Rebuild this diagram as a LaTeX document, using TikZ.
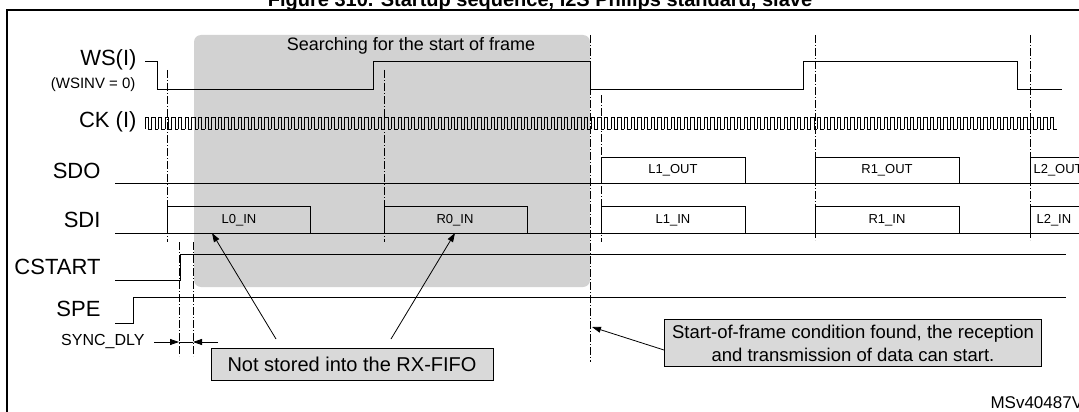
\documentclass[tikz,border=0pt]{standalone}
\usepackage{fontspec}
\setmainfont{Liberation Sans}
\usetikzlibrary{arrows.meta}
\begin{document}
\begin{tikzpicture}[x=1pt,y=-1pt,
  sig/.style={line width=1pt},
  dd/.style={line width=0.8pt,dash pattern=on 8pt off 2pt on 1pt off 2pt},
  lbl/.style={anchor=east,font=\fontsize{22}{22}\selectfont},
  box/.style={font=\fontsize{13}{13}\selectfont},
  note/.style={draw,fill=gray!30,line width=1pt,align=center,inner sep=2pt},
  arr/.style={-{Triangle[length=9pt,width=6pt]},line width=0.8pt}]
\useasboundingbox (0,0) rectangle (1079,412);
\node[font=\bfseries\fontsize{20}{20}\selectfont] (title) at (540,1) {Figure 310. Startup sequence, I2S Philips standard, slave};
\draw[line width=1.5pt] (7,430) -- (7,10) -- (1100,10);
% gray area
\fill[gray!35,rounded corners=7pt] (194,35) rectangle (590,287);
\node[font=\fontsize{18}{18}\selectfont] (search) at (411,46) {Searching for the start of frame};
% vertical dash-dot lines
\draw[dd] (167,70) -- (167,242);
\draw[dd] (384,70) -- (384,242);
\draw[dd] (590,35) -- (590,362);
\draw[dd] (601,95) -- (601,242);
\draw[dd] (815,35) -- (815,240);
\draw[dd] (1030,35) -- (1030,240);
\draw[dd] (179,242) -- (179,356);
\draw[dd] (193,242) -- (193,356);
% labels
\node[lbl] (ws) at (140,60) {WS(I)};
\node[anchor=east,font=\fontsize{15}{15}\selectfont] (wsinv) at (139,85) {(WSINV = 0)};
\node[lbl] (ck) at (140,122) {CK (I)};
\node[lbl] (sdo) at (104,171) {SDO};
\node[lbl] (sdi) at (104,220) {SDI};
\node[lbl] (cstart) at (104,267) {CSTART};
\node[lbl] (spe) at (104,309) {SPE};
% WS
\draw[sig] (145,62) -- (157,62) -- (157,89) -- (373,89) -- (373,62) -- (590,62) -- (590,89) -- (803,89) -- (803,62) -- (1017,62) -- (1017,89) -- (1062,89);
% CK
\foreach \i in {0,...,136}{
  \pgfmathsetmacro{\a}{145+\i*6.657}
  \pgfmathsetmacro{\b}{\a+3.33}
  \pgfmathsetmacro{\c}{\a+6.657}
  \draw[line width=0.8pt] (\a,129) -- (\a,117) -- (\b,117) -- (\b,129) -- (\c,129);
}
% SDO
\draw[sig] (115,183) -- (1079,183);
\draw[sig] (601,183) -- (601,157) -- (745,157) -- (745,183);
\draw[sig] (815,183) -- (815,157) -- (959,157) -- (959,183);
\draw[sig] (1030,183) -- (1030,157) -- (1090,157);
\node[box] (l1o) at (673,170) {L1\_OUT};
\node[box] (r1o) at (887,170) {R1\_OUT};
\node[box,anchor=west] (l2o) at (1030,170) {L2\_OUT};
% SDI
\draw[sig] (115,233) -- (1079,233);
\draw[sig] (167,233) -- (167,206) -- (310,206) -- (310,233);
\draw[sig] (384,233) -- (384,206) -- (527,206) -- (527,233);
\draw[sig] (601,233) -- (601,206) -- (745,206) -- (745,233);
\draw[sig] (815,233) -- (815,206) -- (959,206) -- (959,233);
\draw[sig] (1030,233) -- (1030,206) -- (1090,206);
\node[box] (l0i) at (239,220) {L0\_IN};
\node[box] (r0i) at (455,220) {R0\_IN};
\node[box] (l1i) at (673,220) {L1\_IN};
\node[box] (r1i) at (887,220) {R1\_IN};
\node[box,anchor=west] (l2i) at (1033,220) {L2\_IN};
% CSTART / SPE
\draw[sig] (115,280) -- (180,280) -- (180,254) -- (1066,254);
\draw[sig] (115,323) -- (133,323) -- (133,297) -- (1066,297);
% sync dly
\node[anchor=east,font=\fontsize{16}{16}\selectfont] (sync) at (148,342) {SYNC\_DLY};
\coordinate (s1) at (179,342);
\coordinate (s2) at (193,342);
\draw[arr] (sync.east) ++(6,0) coordinate (s0) -- (s1);
\draw[arr] (218,342) coordinate (s3) -- (s2);
\draw[line width=0.8pt] (s1) -- (s2);
% notes
\node[note,font=\fontsize{20}{20}\selectfont,minimum width=282pt,minimum height=32pt] (n1) at (352,364) {Not stored into the RX-FIFO};
\node[note,font=\fontsize{18.5}{23}\selectfont,minimum width=377pt,minimum height=47pt] (n2) at (853,343) {Start-of-frame condition found, the reception\\and transmission of data can start.};
\coordinate (a1) at (212,233);
\coordinate (a2) at (455,233);
\coordinate (a3) at (592,327);
\draw[arr] (276,339) -- (a1);
\draw[arr] (391,339) -- (a2);
\draw[arr] (n2.west |- 0,350) -- (a3);
\node[anchor=west,font=\fontsize{17}{17}\selectfont] (ms) at (987,403) {MSv40487V1};
\end{tikzpicture}
\end{document}
